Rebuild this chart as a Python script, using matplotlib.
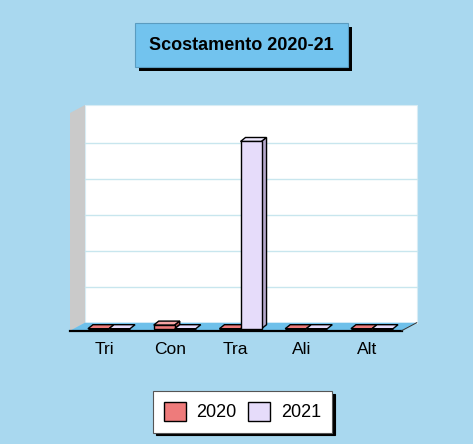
import matplotlib.pyplot as plt
from matplotlib.patches import Polygon, Rectangle

# dati del grafico
categories = ['Tri', 'Con', 'Tra', 'Ali', 'Alt']
values_2020 = [0.0, 0.1, 0.0, 0.0, 0.0]
values_2021 = [0.0, 0.0, 5.2, 0.0, 0.0]
series_names = ['2020', '2021']
title = 'Scostamento 2020-21'

plt.rcParams['font.family'] = ['Liberation Sans', 'DejaVu Sans']

W, H = 473, 444
fig = plt.figure(figsize=(W / 100, H / 100), dpi=100)
fig.patch.set_facecolor('#A9D8EF')

# assi posizionati in pixel
ax_l, ax_r, ax_t, ax_b = 55, 430, 95, 336
ax = fig.add_axes([ax_l / W, 1 - ax_b / H, (ax_r - ax_l) / W, (ax_b - ax_t) / H])
px_x = 65.75   # pixel per categoria
px_y = 36.0    # pixel per unita
x0_px, y0_px = 109, 328.7
ax.set_xlim((ax_l - x0_px) / px_x, (ax_r - x0_px) / px_x)
ax.set_ylim((y0_px - ax_b) / px_y, (y0_px - ax_t) / px_y)


def dx(p):
    return p / px_x


def dy(p):
    return p / px_y


# pareti e pavimento (effetto 3D)
floor_front = dy(-2)
fl_left = dx(70 - x0_px)
fl_right = dx(401.7 - x0_px)
depth_x, depth_y = dx(15), dy(8)
top = dy(y0_px - 105)
floor_back = floor_front + depth_y

ax.add_patch(Rectangle((fl_left + depth_x, floor_back), fl_right - fl_left,
                       top - floor_back, facecolor='white', edgecolor='#D8ECF4',
                       lw=0.8, zorder=0))
ax.add_patch(Polygon([(fl_left, floor_front), (fl_left + depth_x, floor_back),
                      (fl_left + depth_x, top), (fl_left, top - depth_y)],
                     closed=True, facecolor='#CACACA', edgecolor='none', zorder=0.5))
for k in range(1, 6):
    ax.plot([fl_left + depth_x, fl_right + depth_x], [floor_back + k, floor_back + k],
            color='#C8E6EE', lw=1, zorder=0.6)
ax.add_patch(Polygon([(fl_left, floor_front), (fl_right, floor_front),
                      (fl_right + depth_x, floor_back), (fl_left + depth_x, floor_back)],
                     closed=True, facecolor='#6EC0EA', edgecolor='none', zorder=1))
ax.plot([fl_left, fl_right], [floor_front, floor_front], color='black', lw=1.6, zorder=1.1)
ax.plot([fl_right, fl_right + depth_x], [floor_front, floor_back], color='#333333',
        lw=0.7, zorder=1.1)

# barre
w = 0.32
bdx, bdy = dx(5), dy(4)
styles = [('#EE7B7B', '#F5A3A3', '#C05A5A'), ('#E6DCFA', '#F0EAFF', '#B6AACC')]
containers = []
for s, vals in enumerate([values_2020, values_2021]):
    front, topc, side = styles[s]
    xs = [i - w + s * w for i in range(len(categories))]
    z = 3 + s
    bc = ax.bar(xs, vals, width=w, align='edge', color=front, edgecolor='black',
                lw=1, zorder=z, label=series_names[s])
    containers.append(bc)
    for x, v in zip(xs, vals):
        ax.add_patch(Polygon([(x, v), (x + w, v), (x + w + bdx, v + bdy), (x + bdx, v + bdy)],
                             closed=True, facecolor=topc if v > 0 else front,
                             edgecolor='black', lw=1, zorder=z - 0.1))
        if v > 0:
            ax.add_patch(Polygon([(x + w, 0), (x + w, v), (x + w + bdx, v + bdy),
                                  (x + w + bdx, bdy)],
                                 closed=True, facecolor=side, edgecolor='black',
                                 lw=1, zorder=z - 0.1))

ax.set_xticks([i - dx(5) for i in range(len(categories))])
ax.set_xticklabels(categories, fontsize=12.5)
ax.tick_params(axis='x', length=0, pad=4)
ax.set_yticks([])
for sp in ax.spines.values():
    sp.set_visible(False)
ax.patch.set_visible(False)

# titolo in riquadro con ombra
tl, tt, tr, tb = 135, 23.3, 348.3, 66.7
fig.patches.append(Rectangle(((tl + 4) / W, 1 - (tb + 4) / H), (tr - tl) / W, (tb - tt) / H,
                             transform=fig.transFigure, facecolor='black', edgecolor='none'))
fig.patches.append(Rectangle((tl / W, 1 - tb / H), (tr - tl) / W, (tb - tt) / H,
                             transform=fig.transFigure, facecolor='#72C3EE',
                             edgecolor='#5A9CC0', lw=0.8))
fig.text((tl + tr) / 2 / W, 1 - (tt + tb) / 2 / H, title, fontsize=13, fontweight='bold',
         ha='center', va='center')

# legenda
leg = fig.legend(handles=containers, labels=series_names, loc='center',
                 bbox_to_anchor=(242.5 / W, 1 - 411.7 / H), ncol=2, fontsize=13,
                 handlelength=1.2, handleheight=1.2, borderpad=0.62, handletextpad=0.6,
                 columnspacing=0.65, fancybox=False, framealpha=1,
                 shadow={'color': 'black', 'alpha': 1})
leg.get_frame().set_edgecolor('#555555')
leg.get_frame().set_linewidth(0.8)

plt.savefig('out.png', dpi=100, facecolor=fig.get_facecolor())
